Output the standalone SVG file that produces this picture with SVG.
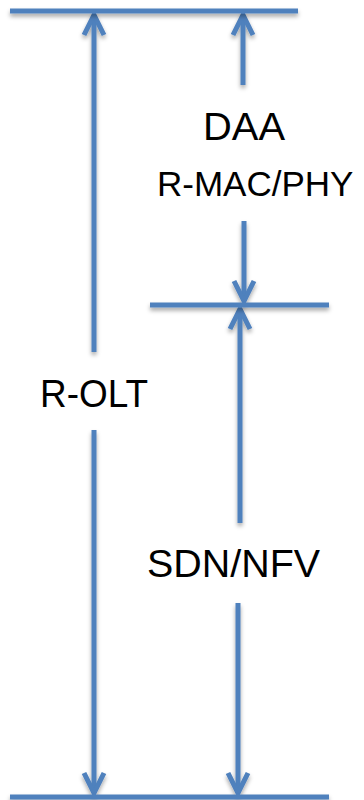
<svg xmlns="http://www.w3.org/2000/svg" width="364" height="800" viewBox="0 0 364 800">
  <style>
    .ln { stroke: #4F81BD; stroke-width: 5; fill: none; }
    .ar { stroke: #4F81BD; stroke-width: 5; fill: none; marker-end: url(#ah); }
    .lbl { font-family: "Liberation Sans", Arial, sans-serif; font-size: 38px; fill: #000; }
  </style>
  <defs>
    <filter id="sh" filterUnits="userSpaceOnUse" x="0" y="0" width="364" height="800">
      <feDropShadow dx="0" dy="3" stdDeviation="2" flood-color="#000" flood-opacity="0.35"/>
    </filter>
    <marker id="ah" markerUnits="userSpaceOnUse" viewBox="-26 -16 30 32" markerWidth="30" markerHeight="32" refX="0" refY="0" orient="auto">
      <path d="M-20,-10 L0,0 L-20,10" stroke="#4F81BD" stroke-width="5" fill="none" stroke-linejoin="miter"/>
    </marker>
  </defs>
  <g id="connectors" filter="url(#sh)">
    <line class="ar" x1="94" y1="352" x2="94" y2="15"/>
    <line class="ar" x1="94" y1="430" x2="94" y2="793"/>
    <line class="ar" x1="243" y1="85" x2="243" y2="15"/>
    <line class="ar" x1="244" y1="221" x2="244" y2="301"/>
    <line class="ar" x1="240" y1="523" x2="240" y2="309"/>
    <line class="ar" x1="238" y1="603" x2="238" y2="793"/>
  </g>
  <g id="top-bar" filter="url(#sh)">
    <line class="ln" x1="10" y1="11" x2="298" y2="11"/>
  </g>
  <g id="middle-bar" filter="url(#sh)">
    <line class="ln" x1="150" y1="305" x2="329" y2="305"/>
  </g>
  <g id="bottom-bar" filter="url(#sh)">
    <line class="ln" x1="10" y1="797" x2="329" y2="797"/>
  </g>
  <g id="daa-label">
    <text class="lbl" x="203" y="140" textLength="82" lengthAdjust="spacingAndGlyphs">DAA</text>
    <text class="lbl" x="157" y="196" style="font-size:35px">R-MAC/PHY</text>
  </g>
  <g id="rolt-label">
    <text class="lbl" x="40" y="407" textLength="108" lengthAdjust="spacingAndGlyphs">R-OLT</text>
  </g>
  <g id="sdn-label">
    <text class="lbl" x="147" y="577" textLength="173" lengthAdjust="spacingAndGlyphs">SDN/NFV</text>
  </g>
</svg>
